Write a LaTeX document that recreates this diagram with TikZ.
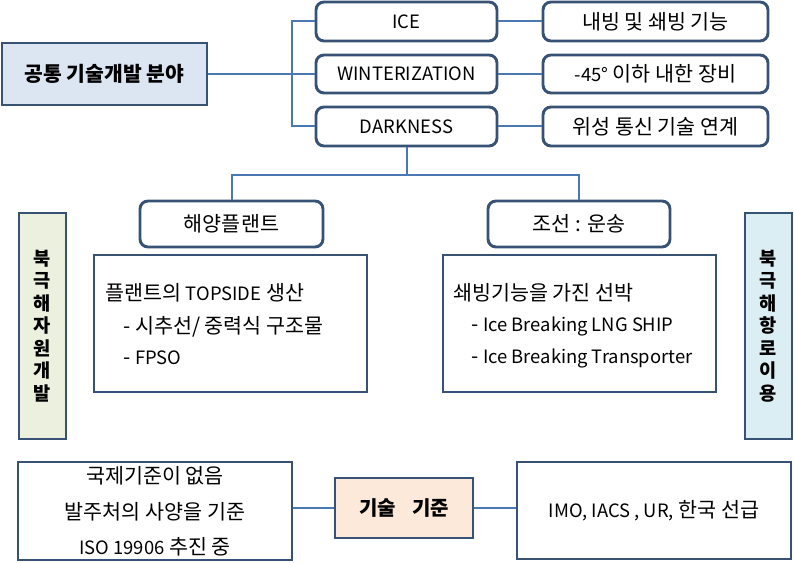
\documentclass[tikz,border=0pt]{standalone}
\usepackage{fontspec}
\setmainfont{Noto Sans CJK KR}
\newcommand\lat[1]{{\fontsize{13.8}{18}\selectfont #1}}
\definecolor{bord}{RGB}{56,82,118}
\definecolor{conn}{RGB}{74,120,178}
\definecolor{fblue}{RGB}{220,230,242}
\definecolor{fgreen}{RGB}{235,241,222}
\definecolor{fcyan}{RGB}{218,238,243}
\definecolor{fpeach}{RGB}{253,233,217}
\begin{document}
\begin{tikzpicture}[x=0.75pt,y=-0.75pt,
  box/.style={draw=bord,line width=2.2pt,fill=white,inner sep=0pt,font=\fontsize{15.5}{18}\selectfont},
  rbox/.style={box,rounded corners=6pt},
  wire/.style={draw=conn,line width=1.5pt},
  txt/.style={anchor=west,inner sep=0pt,font=\fontsize{15.5}{18}\selectfont},
  ctxt/.style={anchor=center,inner sep=0pt,font=\fontsize{15.5}{18}\selectfont},
  vtxt/.style={align=center,font=\bfseries\fontsize{14}{16.9}\selectfont}]
\useasboundingbox (0,0) rectangle (794,563);
% top row
\node[box,fill=fblue,minimum width=205*0.75pt,minimum height=62*0.75pt,font=\bfseries\fontsize{15.3}{18}\selectfont] (gong) at (104.5,74) {공통 기술개발 분야};
\node[rbox,minimum width=181*0.75pt,minimum height=39*0.75pt] (ice) at (406.5,21.5) {\lat{ICE}};
\node[rbox,minimum width=181*0.75pt,minimum height=38*0.75pt] (wint) at (406.5,74) {\lat{WINTERIZATION}};
\node[rbox,minimum width=181*0.75pt,minimum height=39*0.75pt] (dark) at (406.5,126.5) {\lat{DARKNESS}};
\node[rbox,minimum width=225*0.75pt,minimum height=39*0.75pt] (r1) at (655.5,21.5) {내빙 및 쇄빙 기능};
\node[rbox,minimum width=225*0.75pt,minimum height=38*0.75pt] (r2) at (655.5,74) {\lat{-45°} 이하 내한 장비};
\node[rbox,minimum width=225*0.75pt,minimum height=39*0.75pt] (r3) at (655.5,126.5) {위성 통신 기술 연계};
% middle
\node[rbox,minimum width=183*0.75pt,minimum height=46*0.75pt] (hae) at (231.5,224) {해양플랜트};
\node[rbox,minimum width=182*0.75pt,minimum height=46*0.75pt] (jo) at (579,224) {조선 : 운송};
\node[box,minimum width=273*0.75pt,minimum height=137*0.75pt] (pl) at (230.5,323.5) {};
\node[box,minimum width=273*0.75pt,minimum height=137*0.75pt] (sh) at (579.5,323.5) {};
\node[txt] (pl1) at (105,293) {플랜트의 \lat{TOPSIDE} 생산};
\node[txt] (pl2) at (123,327) {- 시추선/ 중력식 구조물};
\node[txt] (pl3) at (123,358) {- \lat{FPSO}};
\node[txt] (sh1) at (453,293) {쇄빙기능을 가진 선박};
\node[txt] (sh2) at (471,326) {- \lat{Ice Breaking LNG SHIP}};
\node[txt] (sh3) at (471,358) {- \lat{Ice Breaking Transporter}};
\node[box,fill=fgreen,minimum width=47*0.75pt,minimum height=226*0.75pt] (jw) at (42.5,326) {};
\node[vtxt] (jwt) at (42.5,326) {북\\극\\해\\자\\원\\개\\발};
\node[box,fill=fcyan,minimum width=47*0.75pt,minimum height=226*0.75pt] (hr) at (768.5,326) {};
\node[vtxt] (hrt) at (768.5,326) {북\\극\\해\\항\\로\\이\\용};
% bottom
\node[box,minimum width=274*0.75pt,minimum height=98*0.75pt] (kj) at (155,511) {};
\node[ctxt] (kj1) at (155,476) {국제기준이 없음};
\node[ctxt] (kj2) at (155,512) {발주처의 사양을 기준};
\node[ctxt] (kj3) at (155,547) {\lat{ISO 19906} 추진 중};
\node[box,fill=fpeach,minimum width=138*0.75pt,minimum height=60*0.75pt,font=\bfseries\fontsize{15}{18}\selectfont] (gs) at (404,508) {기술\hspace{0.8em}기준};
\node[box,minimum width=274*0.75pt,minimum height=97*0.75pt] (imo) at (654,510.5) {\lat{IMO, IACS , UR,} 한국 선급};
% connectors
\coordinate (b1) at (292,21.5);
\coordinate (b3) at (292,126.5);
\coordinate (hy) at (0,175);
\draw[wire] (gong.east) -- (wint.west);
\draw[wire] (ice.west) -- (b1) -- (b3) -- (dark.west);
\draw[wire] (ice.east) -- (r1.west);
\draw[wire] (wint.east) -- (r2.west);
\draw[wire] (dark.east) -- (r3.west);
\draw[wire] (dark.south) -- (dark.south |- hy);
\draw[wire] (hae.north) |- (hy -| jo.north) -- (jo.north);
\draw[wire] (kj.east |- gs.west) -- (gs.west);
\draw[wire] (gs.east) -- (imo.west |- gs.east);
\end{tikzpicture}
\end{document}
